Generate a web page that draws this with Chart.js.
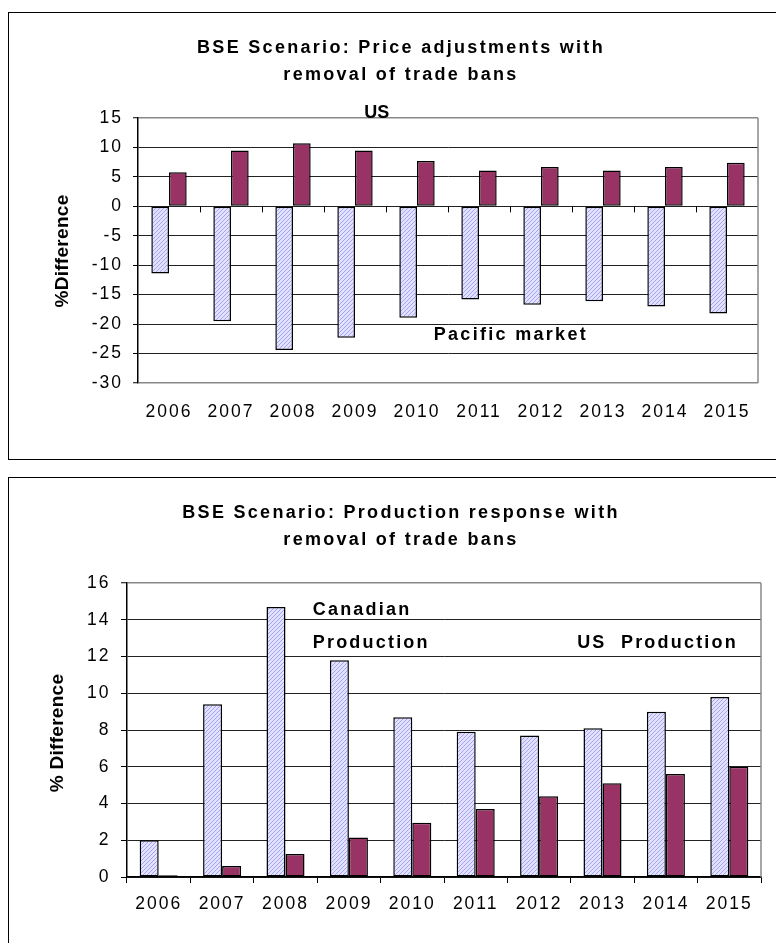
<!DOCTYPE html>
<html>
<head>
<meta charset="utf-8">
<script src="https://cdn.jsdelivr.net/npm/chart.js@4.4.1/dist/chart.umd.min.js"></script>
<style>
  html, body { margin: 0; padding: 0; background: #fff; }
  body { width: 776px; height: 943px; overflow: hidden; position: relative; }
  .box { position: absolute; left: 7.5px; width: 790px; border: 1.5px solid #000; box-sizing: border-box; }
  #box1 { top: 11.5px; height: 448px; }
  #box2 { top: 476.5px; height: 480px; }
  .cv { position: absolute; left: 0; }
  #priceChart { top: 0; }
  #prodChart { top: 470px; }
</style>
</head>
<body>
<div class="box" id="box1"></div>
<div class="box" id="box2"></div>
<canvas class="cv" id="priceChart" width="800" height="460"></canvas>
<canvas class="cv" id="prodChart" width="800" height="473"></canvas>
<script>
// datos
const years = ['2006', '2007', '2008', '2009', '2010', '2011', '2012', '2013', '2014', '2015'];

// grafica 1: precios (% diferencia)
const pacificPrice = [-11.4, -19.5, -24.4, -22.3, -18.9, -15.8, -16.7, -16.1, -17.0, -18.2];
const usPrice = [5.8, 9.5, 10.7, 9.5, 7.7, 6.1, 6.7, 6.1, 6.7, 7.4];
const priceTitle = ['BSE Scenario: Price adjustments with', 'removal of trade bans'];

// grafica 2: produccion (% diferencia)
const canadianProd = [2.0, 9.4, 14.7, 11.8, 8.7, 7.9, 7.7, 8.1, 9.0, 9.8];
const usProd = [0.1, 0.6, 1.25, 2.15, 2.95, 3.7, 4.4, 5.1, 5.6, 6.0];
const prodTitle = ['BSE Scenario: Production response with', 'removal of trade bans'];

const FONT = "'Liberation Sans', Arial, sans-serif";
const MAROON = '#993366';

function hatch() {
  const c = document.createElement('canvas');
  c.width = 4; c.height = 4;
  const g = c.getContext('2d');
  g.fillStyle = '#e2e2ff';
  g.fillRect(0, 0, 4, 4);
  g.strokeStyle = '#a4a4f6';
  g.lineWidth = 1;
  g.beginPath();
  g.moveTo(0, 4); g.lineTo(4, 0);
  g.moveTo(-1, 1); g.lineTo(1, -1);
  g.moveTo(3, 5); g.lineTo(5, 3);
  g.stroke();
  return g.createPattern(c, 'repeat');
}
const hatchFill = hatch();

function txt(ctx, s, x, y, o) {
  ctx.save();
  ctx.font = 'bold ' + (o.size || 18) + 'px ' + FONT;
  ctx.fillStyle = '#000';
  ctx.letterSpacing = (o.ls || 0) + 'px';
  ctx.textAlign = o.align || 'center';
  ctx.textBaseline = o.base || 'middle';
  ctx.translate(x, y);
  if (o.rot) ctx.rotate(o.rot);
  ctx.fillText(s, 0, 0);
  ctx.restore();
}

// plugin: titulo, ejes, etiquetas de texto
function decorPlugin(cfg) {
  return {
    id: 'decor',
    beforeDraw(chart) {
      chart.ctx.letterSpacing = '2px';
    },
    afterDraw(chart) {
      const ctx = chart.ctx;
      const a = chart.chartArea;
      const xs = chart.scales.x, ys = chart.scales.y;
      ctx.save();
      ctx.letterSpacing = '0px';
      // borde derecho gris
      ctx.strokeStyle = '#888';
      ctx.lineWidth = 1.5;
      ctx.beginPath();
      ctx.moveTo(a.right, a.top);
      ctx.lineTo(a.right, a.bottom);
      ctx.stroke();
      // marcas en la linea cero
      if (cfg.zeroTicks) {
        const y0 = ys.getPixelForValue(0);
        const w = xs.width / years.length;
        ctx.strokeStyle = '#000';
        ctx.lineWidth = 1;
        ctx.beginPath();
        for (let i = 1; i < years.length; i++) {
          const x = Math.round(xs.left + i * w) + 0.5;
          ctx.moveTo(x, y0);
          ctx.lineTo(x, y0 + 6);
        }
        ctx.stroke();
      }
      ctx.restore();
      txt(ctx, cfg.title[0], 401, cfg.titleY[0], { size: 18, ls: 2.3 });
      txt(ctx, cfg.title[1], 401, cfg.titleY[1], { size: 18, ls: 2.3 });
      txt(ctx, cfg.yTitle, cfg.yTitlePos[0], cfg.yTitlePos[1], { size: 19, ls: 0.3, rot: -Math.PI / 2 });
      cfg.notes.forEach(n => {
        txt(ctx, n.text, xs.getPixelForValue(n.x), ys.getPixelForValue(n.y),
          { size: 18, ls: n.ls, align: n.align, base: n.base });
      });
    }
  };
}

function makeChart(id, cfg) {
  return new Chart(document.getElementById(id), {
    type: 'bar',
    data: {
      labels: years,
      datasets: [{
        data: cfg.a,
        backgroundColor: hatchFill,
        borderColor: '#000',
        borderWidth: 1.5,
        borderSkipped: false
      }, {
        data: cfg.b,
        backgroundColor: MAROON,
        borderColor: '#000',
        borderWidth: 1.5,
        borderSkipped: false
      }]
    },
    options: {
      responsive: false,
      animation: false,
      layout: { padding: cfg.padding },
      plugins: { legend: { display: false }, title: { display: false }, tooltip: { enabled: false } },
      datasets: { bar: { categoryPercentage: cfg.catPct, barPercentage: 1 } },
      scales: {
        x: {
          afterFit: s => { s.height = cfg.xHeight; },
          grid: cfg.xGrid,
          border: cfg.xBorder,
          ticks: {
            autoSkip: false, maxRotation: 0, color: '#000', padding: cfg.xPad,
            font: { family: FONT, size: 17.5 }
          }
        },
        y: {
          min: cfg.min, max: cfg.max,
          afterFit: s => { s.width = cfg.yWidth; },
          border: { display: true, color: '#000', width: 1.5 },
          grid: {
            color: c => (c.tick && (c.tick.value === cfg.max || c.tick.value === cfg.min && cfg.grayMin)) ? '#888' : '#222',
            lineWidth: c => (c.tick && (c.tick.value === cfg.max || c.tick.value === cfg.min && cfg.grayMin)) ? 1.5 : 1,
            tickColor: '#000', tickLength: cfg.yTick, tickWidth: 1
          },
          ticks: {
            stepSize: cfg.step, color: '#000', padding: cfg.yPad,
            font: { family: FONT, size: 17.5 }
          }
        }
      }
    },
    plugins: [decorPlugin(cfg)]
  });
}

makeChart('priceChart', {
  a: pacificPrice, b: usPrice,
  min: -30, max: 15, step: 5, grayMin: true,
  padding: { top: 118, right: 42, bottom: 17, left: 0 },
  xHeight: 60, yWidth: 138, yTick: 5, yPad: 10, xPad: 19,
  catPct: 0.57,
  xGrid: { display: false, drawTicks: false },
  xBorder: { display: false },
  zeroTicks: true,
  title: priceTitle, titleY: [48, 75],
  yTitle: '%Difference', yTitlePos: [63, 251],
  notes: [
    { text: 'US', x: 3.35, y: 15, ls: 0, align: 'center', base: 'alphabetic' },
    { text: 'Pacific market', x: 4.27, y: -21.85, ls: 2.3, align: 'left', base: 'middle' }
  ]
});

makeChart('prodChart', {
  a: canadianProd, b: usProd,
  min: 0, max: 16, step: 2, grayMin: false,
  padding: { top: 113, right: 39, bottom: 11, left: 0 },
  xHeight: 55, yWidth: 127, yTick: 6, yPad: 10.5, xPad: 10.5,
  catPct: 0.6,
  xGrid: { display: true, drawOnChartArea: false, offset: true, color: '#000', tickLength: 6, lineWidth: 1 },
  xBorder: { display: true, color: '#000', width: 1.5 },
  zeroTicks: false,
  title: prodTitle, titleY: [43, 70],
  yTitle: '% Difference', yTitlePos: [58, 263],
  notes: [
    { text: 'Canadian', x: 2.43, y: 14.55, ls: 2.2, align: 'left', base: 'middle' },
    { text: 'Production', x: 2.43, y: 12.75, ls: 2.2, align: 'left', base: 'middle' },
    { text: 'US  Production', x: 6.6, y: 12.75, ls: 2.2, align: 'left', base: 'middle' }
  ]
});
</script>
</body>
</html>
